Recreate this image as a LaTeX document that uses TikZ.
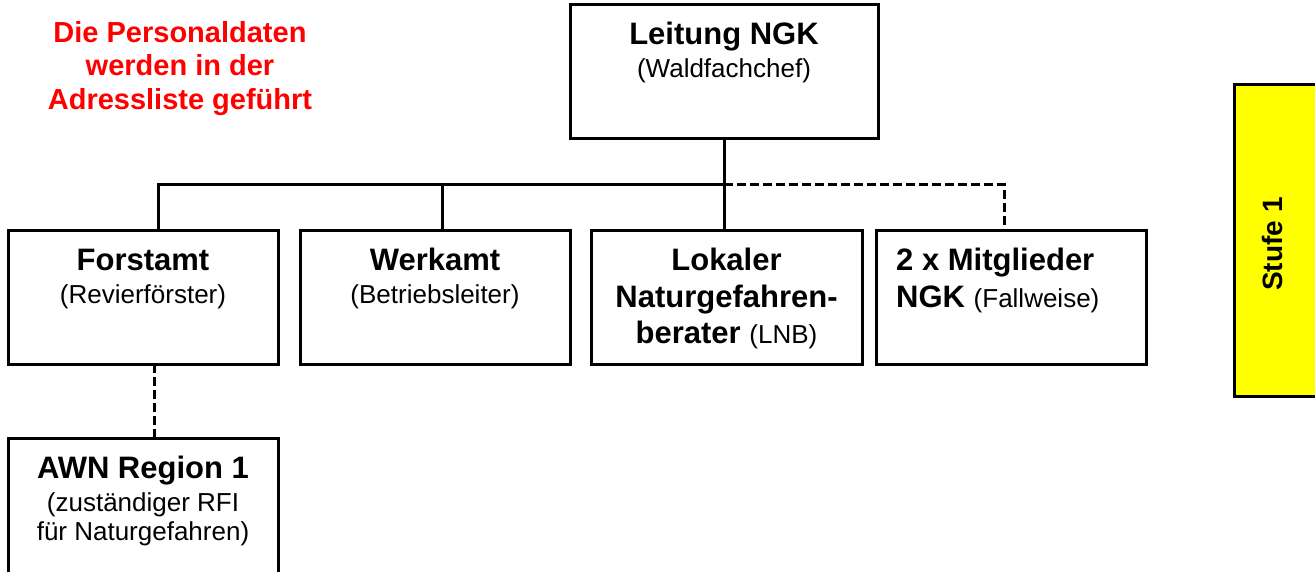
\documentclass[tikz,border=0pt]{standalone}
\usepackage{fontspec}
\setmainfont{Liberation Sans}
\definecolor{stufegelb}{RGB}{255,255,0}
\definecolor{notered}{RGB}{255,0,0}
\newcommand\subfnt{\fontsize{26}{29}\mdseries\selectfont}
\begin{document}
\begin{tikzpicture}[x=1pt,y=-1pt,
  box/.style={draw=black, line width=3pt, fill=white, inner sep=0pt, outer sep=0pt, anchor=north west},
  ttl/.style={font=\fontsize{31}{36}\bfseries\selectfont, anchor=base, inner sep=0pt},
  ttlw/.style={font=\fontsize{31}{36}\bfseries\selectfont, anchor=base west, inner sep=0pt},
  sub/.style={font=\subfnt, anchor=base, inner sep=0pt},
  note/.style={font=\fontsize{29}{33}\bfseries\selectfont, text=notered, anchor=base, inner sep=0pt},
  conn/.style={line width=3pt},
  dconn/.style={line width=3pt, dash pattern=on 9pt off 4pt}]
\useasboundingbox (0,0) rectangle (1315,571);
% boxes
\node[box, minimum width=308pt, minimum height=134pt] (lei) at (570,4) {};
\node[box, minimum width=270pt, minimum height=134pt] (forst) at (8,230) {};
\node[box, minimum width=270pt, minimum height=134pt] (werk) at (300,230) {};
\node[box, minimum width=271pt, minimum height=134pt] (lok) at (591,230) {};
\node[box, minimum width=270pt, minimum height=134pt] (mit) at (876,230) {};
\node[box, minimum width=270pt, minimum height=140pt] (awn) at (8,438) {};
\node[box, fill=stufegelb, minimum width=90pt, minimum height=312pt] (stufe) at (1234,84) {};
% connectors
\coordinate (h) at (0,184);
\draw[conn] (lei.south) -- (lei.south |- lok.north);
\draw[conn] ([xshift=15pt]forst.north) |- (lei.south |- h);
\draw[conn] ([xshift=7pt]werk.north) -- ([xshift=7pt]werk.north |- h);
\draw[dconn] (lei.south |- h) -| ([xshift=-7pt]mit.north);
\draw[dconn] ([xshift=11pt]forst.south) -- ([xshift=11pt]forst.south |- awn.north);
% texts
\node[note] (n1) at (180,42) {Die Personaldaten};
\node[note] (n2) at (180,75) {werden in der};
\node[note] (n3) at (180,109) {Adressliste geführt};
\node[ttl] (leit) at (724,44) {Leitung NGK};
\node[sub] (leis) at (724,77) {(Waldfachchef)};
\node[ttl] (forstt) at (143,270) {Forstamt};
\node[sub] (forsts) at (143,303) {(Revierförster)};
\node[ttl] (werkt) at (435,270) {Werkamt};
\node[sub] (werks) at (435,303) {(Betriebsleiter)};
\node[ttl] (lok1) at (726.5,270) {Lokaler};
\node[ttl] (lok2) at (726.5,307) {Naturgefahren-};
\node[ttl] (lok3) at (726.5,343) {berater {\subfnt (LNB)}};
\node[ttlw] (mit1) at (896,270) {2 x Mitglieder};
\node[ttlw] (mit2) at (896,307) {NGK {\subfnt (Fallweise)}};
\node[ttl] (awnt) at (143,478) {AWN Region 1};
\node[sub] (awn1) at (143,511) {(zuständiger RFI};
\node[sub] (awn2) at (143,540) {für Naturgefahren)};
\node[font=\fontsize{28}{32}\bfseries\selectfont, rotate=90, inner sep=0pt] (stt) at (1272,244) {Stufe 1};
\end{tikzpicture}
\end{document}
